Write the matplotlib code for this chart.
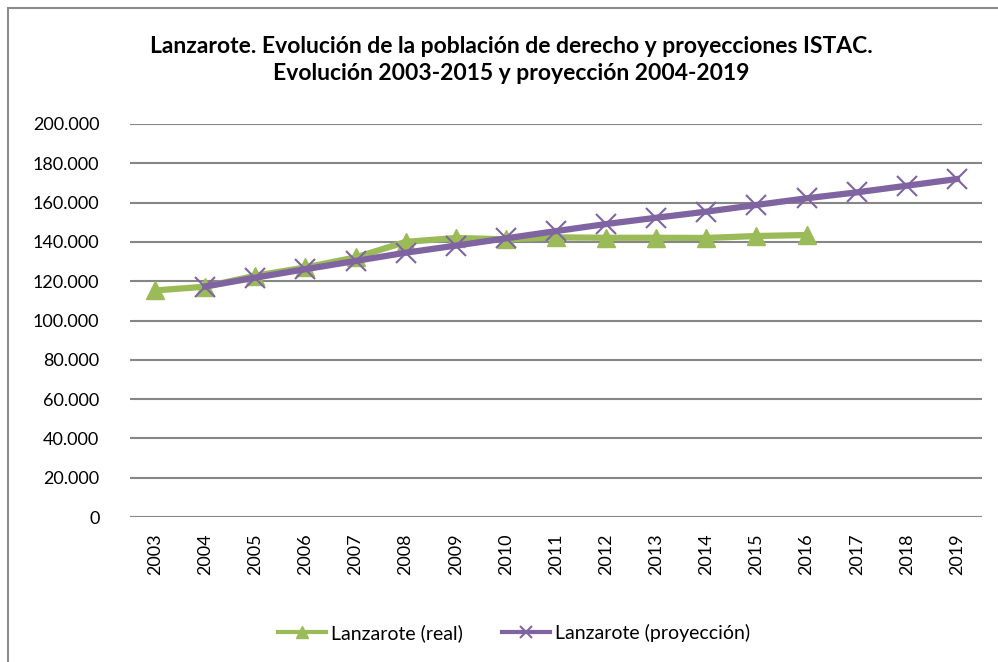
import numpy as np
import matplotlib
matplotlib.use('Agg')
from matplotlib import pyplot as plt
from matplotlib.ticker import FuncFormatter
from matplotlib.patches import Rectangle
from matplotlib.lines import Line2D

years = [str(y) for y in range(2003, 2020)]
real_years = years[:14]
real_vals = [115300, 117200, 122800, 127000, 132100, 140000, 142000,
             141300, 142300, 142100, 142100, 142000, 143000, 143500]
proj_years = years[1:]
proj_vals = [117300, 121800, 126100, 130300, 134500, 138100, 141800,
             145500, 149100, 152300, 155400, 158800, 162200, 165200,
             168600, 172000]

title = ('Lanzarote. Evolución de la población de derecho y proyecciones ISTAC.\n'
         'Evolución 2003-2015 y proyección 2004-2019')
label_real = 'Lanzarote (real)'
label_proj = 'Lanzarote (proyección)'

green = '#9BBB59'
purple = '#8064A2'
grid_c = '#868686'

plt.rcParams['font.family'] = ['Lato', 'DejaVu Sans']

fig = plt.figure(figsize=(9.98, 6.62), dpi=100)
W, H = 998, 662
ax = fig.add_axes([130 / W, 1 - 517 / H, (982 - 130) / W, (517 - 124) / H])

# chart border
fig.patches.append(Rectangle((8 / W, -0.01), 1.2, 1 - 8 / H + 0.01,
                             transform=fig.transFigure, fill=False,
                             edgecolor='#8c8c8c', linewidth=1.5))

xr = [years.index(y) for y in real_years]
xp = [years.index(y) for y in proj_years]

ax.plot(xr, real_vals, color=green, linewidth=4.5, marker='^',
        markersize=13, markerfacecolor=green, markeredgecolor=green, zorder=3)
ax.plot(xp, proj_vals, color=purple, linewidth=4.5, marker='x',
        markersize=15, markeredgewidth=1.5, markeredgecolor=purple, zorder=4)

ax.set_xlim(-0.5, len(years) - 0.5)
ax.set_ylim(0, 200000)
ax.set_yticks(np.arange(0, 200001, 20000))
ax.yaxis.set_major_formatter(FuncFormatter(lambda v, p: f'{int(v):,}'.replace(',', '.')))
ax.set_xticks(range(len(years)))
ax.set_xticklabels(years, rotation=90)
ax.tick_params(axis='both', length=0, labelsize=13, colors='black')
ax.tick_params(axis='y', pad=22)
ax.tick_params(axis='x', pad=12)
ax.grid(axis='y', color=grid_c, linewidth=1.5)
ax.set_axisbelow(True)
for s in ax.spines.values():
    s.set_visible(False)

fig.text(511 / W, 1 - 60 / H, title, ha='center', va='center',
         fontsize=16.5, fontweight='bold', linespacing=1.4)

handles = [
    Line2D([], [], color=green, linewidth=3, marker='^', markersize=8,
           markeredgecolor=green),
    Line2D([], [], color=purple, linewidth=3, marker='x', markersize=9,
           markeredgewidth=1.5),
]
fig.legend(handles, [label_real, label_proj], loc='center',
           bbox_to_anchor=(514 / W, 1 - 633 / H), ncol=2,
           frameon=False, fontsize=14, handlelength=2.5, columnspacing=2.0,
           handletextpad=0.25)

fig.savefig('out.png', dpi=100, facecolor='white')
